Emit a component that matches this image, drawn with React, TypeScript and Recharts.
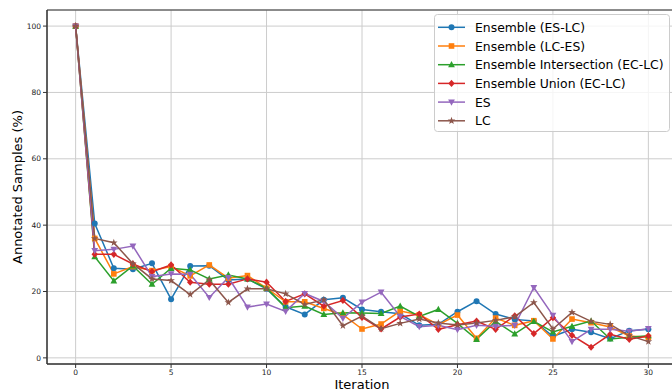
import { LineChart, Line, XAxis, YAxis, CartesianGrid, ReferenceArea, Legend } from "recharts";

const iterations = [0, 1, 2, 3, 4, 5, 6, 7, 8, 9, 10, 11, 12, 13, 14, 15, 16, 17, 18, 19, 20, 21, 22, 23, 24, 25, 26, 27, 28, 29, 30];
const xTicks = [0, 5, 10, 15, 20, 25, 30];
const yTicks = [0, 20, 40, 60, 80, 100];

const ensembleEsLc = [100, 40.5, 27, 26.7, 28.5, 17.7, 27.7, 27.8, 23.5, 23.8, 20.8, 15.4, 13.1, 17.5, 18.1, 14.6, 13.9, 13.3, 9.8, 10.1, 13.9, 17.1, 13.2, 11.6, 11.1, 6.5, 8.6, 7.7, 5.8, 8.2, 8.6];
const ensembleLcEs = [100, 36, 25.3, 27.5, 26.3, 27.5, 24.7, 28, 24, 24.8, 21, 16.9, 16.9, 14.9, 13, 8.7, 10.2, 14.1, 13, 10, 12.9, 5.9, 12, 9.8, 11.2, 5.7, 11.7, 10.6, 9.3, 6.6, 6.2];
const intersection = [100, 30.5, 23.2, 27.7, 22.2, 27, 26.5, 23.8, 25, 23.8, 21, 15.1, 15.6, 13.1, 13.6, 13.5, 13.4, 15.6, 12.5, 14.6, 10.4, 5.6, 11, 7.2, 11, 7.8, 9.5, 11.1, 5.7, 6.2, 6.7];
const union = [100, 31.2, 31.2, 28.3, 26, 28, 22.8, 22.2, 22.2, 23.8, 22.8, 17, 19.3, 15.6, 17.3, 12.2, 8.7, 12.3, 13.2, 8.6, 10, 11.1, 8.6, 12.7, 7.3, 12.1, 6.8, 3.2, 7.1, 5.6, 6.6];
const es = [100, 32.3, 32.7, 33.7, 24.5, 25.3, 25.2, 18.2, 24.2, 15.3, 16.2, 14, 19.4, 17, 11.9, 16.8, 19.8, 12.5, 9.4, 9.8, 8.5, 9.8, 9.5, 9.8, 21.2, 12.8, 4.9, 8.6, 8.6, 8, 8.8];
const lc = [100, 36, 34.7, 28.4, 23.8, 23.3, 19.1, 23.5, 16.7, 20.8, 20.8, 19.3, 16.1, 17.5, 9.7, 12.6, 8.8, 10.4, 11.7, 10.5, 9.9, 10.5, 11.3, 12.4, 16.7, 8.7, 13.7, 11, 10.1, 6.7, 4.9];

const seriesList = [
  { key: "esLc", name: "Ensemble (ES-LC)", color: "#1f77b4", marker: "circle", values: ensembleEsLc },
  { key: "lcEs", name: "Ensemble (LC-ES)", color: "#ff7f0e", marker: "square", values: ensembleLcEs },
  { key: "inter", name: "Ensemble Intersection (EC-LC)", color: "#2ca02c", marker: "triUp", values: intersection },
  { key: "union", name: "Ensemble Union (EC-LC)", color: "#d62728", marker: "diamond", values: union },
  { key: "es", name: "ES", color: "#9467bd", marker: "triDown", values: es },
  { key: "lc", name: "LC", color: "#8c564b", marker: "star", values: lc },
];

const data = iterations.map((it, i) => {
  const row: Record<string, number> = { iteration: it };
  seriesList.forEach((s) => {
    row[s.key] = s.values[i];
  });
  return row;
});

const FONT = "DejaVu Sans, sans-serif";

function starPath(cx: number, cy: number, r: number) {
  const pts: string[] = [];
  for (let k = 0; k < 10; k++) {
    const rad = k % 2 === 0 ? r : r * 0.4;
    const a = -Math.PI / 2 + (k * Math.PI) / 5;
    pts.push(`${cx + rad * Math.cos(a)},${cy + rad * Math.sin(a)}`);
  }
  return `M${pts.join("L")}Z`;
}

function Marker({ shape, cx, cy, color }: { shape: string; cx: number; cy: number; color: string }) {
  if (shape === "circle") return <circle cx={cx} cy={cy} r={3} fill={color} />;
  if (shape === "square") return <rect x={cx - 2.8} y={cy - 2.8} width={5.6} height={5.6} fill={color} />;
  if (shape === "triUp")
    return <polygon points={`${cx},${cy - 3.6} ${cx - 3.4},${cy + 2.6} ${cx + 3.4},${cy + 2.6}`} fill={color} />;
  if (shape === "triDown")
    return <polygon points={`${cx},${cy + 3.6} ${cx - 3.4},${cy - 2.6} ${cx + 3.4},${cy - 2.6}`} fill={color} />;
  if (shape === "diamond")
    return <polygon points={`${cx},${cy - 3.6} ${cx + 3.2},${cy} ${cx},${cy + 3.6} ${cx - 3.2},${cy}`} fill={color} />;
  return <path d={starPath(cx, cy, 4)} fill={color} />;
}

function makeDot(shape: string, color: string, id: string) {
  return (props: any) => {
    const { cx, cy, index } = props;
    if (cx == null || cy == null) return <g key={`${id}-${index}`} />;
    return (
      <g key={`${id}-${index}`}>
        <Marker shape={shape} cx={cx} cy={cy} color={color} />
      </g>
    );
  };
}

function LegendBox() {
  const rowH = 18.7;
  return (
    <svg width={236} height={118} style={{ display: "block" }}>
      <rect x={0.5} y={0.5} width={235} height={117} rx={3} fill="#ffffff" fillOpacity={0.8} stroke="#cccccc" />
      {seriesList.map((s, i) => {
        const y = 13.3 + i * rowH;
        return (
          <g key={s.key}>
            <line x1={4} x2={31} y1={y} y2={y} stroke={s.color} strokeWidth={1.5} />
            <Marker shape={s.marker} cx={17.5} cy={y} color={s.color} />
            <text x={41} y={y} dominantBaseline="central" fontFamily={FONT} fontSize={12.4} fill="#000">
              {s.name}
            </text>
          </g>
        );
      })}
    </svg>
  );
}

export default function App() {
  return (
    <div style={{ position: "absolute", left: 0, top: 0, width: 672, height: 391, overflow: "hidden", background: "#fff" }}>
      <LineChart width={690} height={391} data={data} margin={{ top: 10, right: 13, left: 0, bottom: 0 }}>
        <CartesianGrid stroke="#cccccc" strokeWidth={1} />
        <XAxis
          dataKey="iteration"
          type="number"
          domain={[-1.5, 31.5]}
          ticks={xTicks}
          allowDataOverflow
          height={27}
          tickSize={4}
          tickMargin={1.5}
          tick={{ fontSize: 7.5, fill: "#222", fontFamily: FONT }}
          axisLine={{ stroke: "#333" }}
          tickLine={{ stroke: "#333" }}
          label={{ value: "Iteration", position: "center", dy: 7, fontSize: 13, fill: "#000", fontFamily: FONT }}
        />
        <YAxis
          type="number"
          domain={[-1.85, 104.85]}
          ticks={yTicks}
          allowDataOverflow
          width={47}
          tickSize={4}
          tickMargin={2}
          tick={{ fontSize: 7.5, fill: "#222", fontFamily: FONT }}
          axisLine={{ stroke: "#333" }}
          tickLine={{ stroke: "#333" }}
          label={{ value: "Annotated Samples (%)", angle: -90, position: "center", dx: -6.5, fontSize: 13, fill: "#000", fontFamily: FONT }}
        />
        <ReferenceArea x1={-1.5} x2={31.5} y1={-1.85} y2={104.85} fill="none" stroke="#333" strokeWidth={1} />
        {seriesList.map((s) => (
          <Line
            key={s.key}
            type="linear"
            dataKey={s.key}
            name={s.name}
            stroke={s.color}
            strokeWidth={1.5}
            dot={makeDot(s.marker, s.color, s.key)}
            activeDot={false}
            isAnimationActive={false}
          />
        ))}
        <Legend
          layout="vertical"
          align="center"
          verticalAlign="middle"
          content={() => <LegendBox />}
          wrapperStyle={{ position: "absolute", top: 14, left: 434, width: 236, height: 118 }}
        />
      </LineChart>
    </div>
  );
}
